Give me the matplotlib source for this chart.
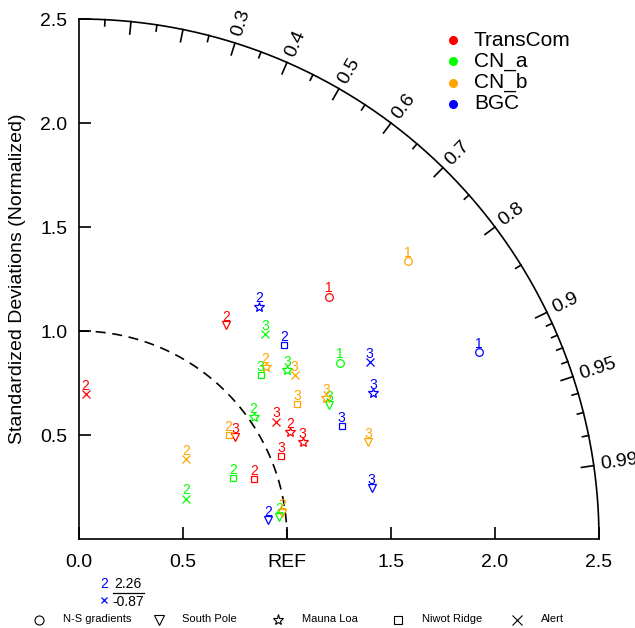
import numpy as np
import matplotlib
matplotlib.use("Agg")
import matplotlib.pyplot as plt

plt.rcParams['font.family'] = ['Liberation Sans', 'DejaVu Sans']

# models and their colours
models = ["TransCom", "CN_a", "CN_b", "BGC"]
model_colors = ["#ff0000", "#00ff00", "#ffa500", "#0000ff"]

# reference data sets (markers)
sites = ["N-S gradients", "South Pole", "Mauna Loa", "Niwot Ridge", "Alert"]
site_markers = ["o", "v", "*", "s", "x"]
site_msize = [5.5, 6, 7, 5, 5.5]

# 9 points per model: N-S gradient (case 1), then cases 2 and 3 per station
point_site = [0, 1, 1, 2, 2, 3, 3, 4, 4]
point_case = ["1", "2", "3", "2", "3", "2", "3", "2", "3"]

# normalized standard deviation ratio and correlation
transcom_ratio = [1.674, 1.249, 0.896, 1.137, 1.172, 0.888, 1.052, 0.698, 1.102]
transcom_corr = [0.718, 0.567, 0.836, 0.892, 0.917, 0.946, 0.925, 0.046, 0.859]
cna_ratio = [1.513, 0.967, 1.364, 1.025, 1.290, 0.796, 1.177, 0.551, 1.332]
cna_corr = [0.828, 0.994, 0.881, 0.819, 0.777, 0.930, 0.742, 0.936, 0.673]
cnb_ratio = [2.071, 0.984, 1.466, 1.221, 1.367, 0.876, 1.234, 0.643, 1.302]
cnb_corr = [0.764, 0.992, 0.948, 0.735, 0.868, 0.821, 0.851, 0.803, 0.796]
bgc_ratio = [2.122, 0.914, 1.428, 1.413, 1.577, 1.357, 1.374, 2.26, 1.636]
bgc_corr = [0.906, 0.995, 0.985, 0.612, 0.896, 0.726, 0.919, -0.87, 0.854]

ratios = [transcom_ratio, cna_ratio, cnb_ratio, bgc_ratio]
corrs = [transcom_corr, cna_corr, cnb_corr, bgc_corr]

corr_major = [0.1, 0.2, 0.3, 0.4, 0.5, 0.6, 0.7, 0.8, 0.9, 0.95, 0.99]
corr_labels = ["", "", "0.3", "0.4", "0.5", "0.6", "0.7", "0.8", "0.9", "0.95", "0.99"]
corr_minor = [0.05, 0.15, 0.25, 0.35, 0.45, 0.55, 0.65, 0.75, 0.85,
              0.91, 0.92, 0.93, 0.94, 0.96, 0.97, 0.98]

xtick_vals = [0.0, 0.5, 1.0, 1.5, 2.0, 2.5]
xtick_labels = ["0.0", "0.5", "REF", "1.5", "2.0", "2.5"]
ytick_vals = [0.5, 1.0, 1.5, 2.0, 2.5]
ytick_labels = ["0.5", "1.0", "1.5", "2.0", "2.5"]

W, H = 635, 628
fig = plt.figure(figsize=(W / 100, H / 100), dpi=100)
ax = fig.add_axes([79 / W, 89 / H, 520 / W, 520 / H])
ax.set_xlim(0, 2.5)
ax.set_ylim(0, 2.5)
for s in ["top", "right"]:
    ax.spines[s].set_visible(False)
for s in ["left", "bottom"]:
    ax.spines[s].set_linewidth(1.2)

ax.set_xticks(xtick_vals)
ax.set_xticklabels(xtick_labels)
ax.set_yticks(ytick_vals)
ax.set_yticklabels(ytick_labels)
ax.tick_params(axis="x", direction="in", length=8.5, width=1.2, labelsize=14, pad=11)
ax.tick_params(axis="y", direction="in", length=8.5, width=1.2, labelsize=14, pad=8.5)

fig.text(18 / W, 1 - 279 / H, "Standardized Deviations (Normalized)",
         rotation=90, ha="center", va="center", fontsize=14)

rmax = 2.5
th = np.linspace(0, np.pi / 2, 300)
ax.plot(rmax * np.cos(th), rmax * np.sin(th), color="black", lw=1.2, clip_on=False)
# REF arc
ax.plot(np.cos(th), np.sin(th), color="black", lw=1.2, dashes=(6, 4))

# correlation ticks and labels
for c, lab in zip(corr_major, corr_labels):
    a = np.arccos(c)
    ax.plot([rmax * c, (rmax - 0.06) * c], [rmax * np.sin(a), (rmax - 0.06) * np.sin(a)],
            color="black", lw=1.2, clip_on=False)
    if lab:
        rl = rmax + 0.035
        ax.text(rl * c, rl * np.sin(a), lab, rotation=np.degrees(a),
                rotation_mode="anchor", ha="left", va="center", fontsize=14)
for c in corr_minor:
    a = np.arccos(c)
    ax.plot([rmax * c, (rmax - 0.03) * c], [rmax * np.sin(a), (rmax - 0.03) * np.sin(a)],
            color="black", lw=1.2, clip_on=False)

# data points
outside = []
for m, (rr, cc, col) in enumerate(zip(ratios, corrs, model_colors)):
    for k in range(len(rr)):
        r, c = rr[k], cc[k]
        si = point_site[k]
        if c < 0 or r > rmax:
            outside.append((m, k))
            continue
        x = r * c
        y = r * np.sin(np.arccos(c))
        ax.plot(x, y, marker=site_markers[si], ms=site_msize[si], mfc="none",
                mec=col, mew=0.9, ls="none", zorder=5)
        ax.annotate(point_case[k], (x, y), xytext=(0, 3), textcoords="offset points",
                    ha="center", va="baseline", fontsize=10, color=col, zorder=6)

# out-of-range points listed below the diagram
for j, (m, k) in enumerate(outside):
    col = model_colors[m]
    px = 104 + 60 * j
    fig.text(px / W, 1 - 584 / H, point_case[k], color=col, ha="center", va="center", fontsize=10)
    ax.plot([px / W], [1 - 600 / H], marker=site_markers[point_site[k]], ms=4.5, mec=col,
            mew=0.9, mfc="none", transform=fig.transFigure, clip_on=False)
    fig.text((px + 24) / W, 1 - 584 / H, f"{ratios[m][k]:.2f}", ha="center", va="center", fontsize=10)
    fig.text((px + 24) / W, 1 - 601.5 / H, f"{corrs[m][k]:.2f}", ha="center", va="center", fontsize=10)
    ax.plot([(px + 9) / W, (px + 40) / W], [1 - 592.5 / H] * 2, color="black", lw=0.9,
            transform=fig.transFigure, clip_on=False)

# model legend (top right)
for i, (name, col) in enumerate(zip(models, model_colors)):
    yy = 1 - (40 + 21.3 * i) / H
    ax.plot([453 / W], [yy], marker="o", ms=5.5, color=col, transform=fig.transFigure,
            clip_on=False)
    fig.text(474 / W, yy, name, ha="left", va="center", fontsize=15)

# site legend (bottom)
for i, (name, mk) in enumerate(zip(sites, site_markers)):
    mx = 39 + 119.5 * i
    ax.plot([mx / W], [1 - 620 / H], marker=mk, ms=site_msize[i] + 1, mfc="none", mec="black",
            mew=0.8, transform=fig.transFigure, clip_on=False)
    fig.text((mx + 24) / W, 1 - 619 / H, name, ha="left", va="center", fontsize=8)

fig.savefig("out.png", dpi=100)
